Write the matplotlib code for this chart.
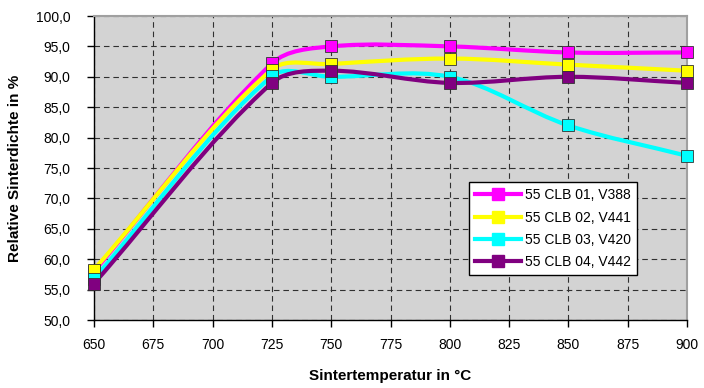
import matplotlib
matplotlib.use("Agg")
from matplotlib import pyplot as plt
from matplotlib.path import Path
from matplotlib.patches import PathPatch
from matplotlib.lines import Line2D
from matplotlib.ticker import FuncFormatter, MultipleLocator

plt.rcParams['font.family'] = ['Liberation Sans', 'DejaVu Sans']

# Sintertemperatur in °C
temps = [650, 725, 750, 800, 850, 900]

# relative Sinterdichte in %
clb01 = [58.0, 92.2, 95.0, 95.0, 94.0, 94.0]
clb02 = [58.3, 91.2, 92.1, 93.0, 92.0, 91.0]
clb03 = [56.8, 90.1, 90.0, 90.0, 82.0, 77.0]
clb04 = [56.0, 89.0, 91.0, 89.0, 90.0, 89.0]

labels = ["55 CLB 01, V388", "55 CLB 02, V441", "55 CLB 03, V420", "55 CLB 04, V442"]
colors = ["#ff00ff", "#ffff00", "#00ffff", "#800080"]


def smooth_path(xs, ys, sx, sy):
	# bezier "smoothed line": tangent from neighbours, scaled by chord length (screen space)
	pts = [(x * sx, y * sy) for x, y in zip(xs, ys)]
	n = len(pts)

	def dist(a, b):
		return ((a[0] - b[0]) ** 2 + (a[1] - b[1]) ** 2) ** 0.5

	verts = [pts[0]]
	codes = [Path.MOVETO]
	for i in range(n - 1):
		p0 = pts[i - 1] if i > 0 else pts[i]
		p1 = pts[i]
		p2 = pts[i + 1]
		p3 = pts[i + 2] if i + 2 < n else pts[i + 1]
		d12 = dist(p1, p2)
		k1 = d12 / (dist(p0, p1) + d12) / 1.5 if i > 0 else 1 / 3
		k2 = d12 / (dist(p2, p3) + d12) / 1.5 if i + 2 < n else 1 / 3
		if i == 0:
			c1 = (p1[0] + (p2[0] - p1[0]) * k1, p1[1] + (p2[1] - p1[1]) * k1)
		else:
			c1 = (p1[0] + (p2[0] - p0[0]) * k1 / 2, p1[1] + (p2[1] - p0[1]) * k1 / 2)
		if i + 2 >= n:
			c2 = (p2[0] - (p2[0] - p1[0]) * k2, p2[1] - (p2[1] - p1[1]) * k2)
		else:
			c2 = (p2[0] - (p3[0] - p1[0]) * k2 / 2, p2[1] - (p3[1] - p1[1]) * k2 / 2)
		verts += [c1, c2, p2]
		codes += [Path.CURVE4] * 3
	verts = [(x / sx, y / sy) for x, y in verts]
	return Path(verts, codes)


fig = plt.figure(figsize=(7.04, 3.88), dpi=100)
ax = fig.add_axes([94/704, 68/388, 593/704, 304/388])
ax.set_facecolor('#d3d3d3')
ax.set_xlim(650, 900)
ax.set_ylim(50, 100)

# pixels per data unit, so smoothing happens as on screen
sx = 593 / 250
sy = 304 / 50

series = [clb01, clb02, clb03, clb04]
handles = []
for vals, col, lab in zip(series, colors, labels):
	ax.add_patch(PathPatch(smooth_path(temps, vals, sx, sy), fill=False, edgecolor=col, lw=3, zorder=3))
	ax.plot(temps, vals, linestyle='none', marker='s', ms=8.5, mfc=col, mec='#333333', mew=0.6,
		zorder=4, clip_on=False)
	handles.append(Line2D([], [], color=col, lw=3, marker='s', ms=8.5, mfc=col, mec=col))

ax.xaxis.set_major_locator(MultipleLocator(25))
ax.yaxis.set_major_locator(MultipleLocator(5))
ax.yaxis.set_major_formatter(FuncFormatter(lambda v, p: f"{v:.1f}".replace('.', ',')))

ax.set_axisbelow(True)
ax.grid(True, color='#303030', lw=0.8, linestyle=(0, (5, 3.5)))

for s in ['top', 'right']:
	ax.spines[s].set_color('#a0a0a0')
	ax.spines[s].set_linewidth(1.5)
for s in ['left', 'bottom']:
	ax.spines[s].set_color('black')
	ax.spines[s].set_linewidth(1.0)

ax.tick_params(direction='out', length=5, width=1, labelsize=10, colors='black')
ax.tick_params(axis='y', pad=12)
ax.tick_params(axis='x', pad=8)

ax.set_xlabel("Sintertemperatur in °C", fontsize=11, fontweight='bold', labelpad=12)
ax.set_ylabel("Relative Sinterdichte in %", fontsize=11, fontweight='bold', labelpad=10)

leg = ax.legend(handles, labels, loc='upper left', bbox_to_anchor=(0.632, 0.454),
	borderaxespad=0, fontsize=10, frameon=True, fancybox=False, framealpha=1,
	edgecolor='black', handlelength=3.3, handletextpad=0.3, labelspacing=0.6,
	borderpad=0.45)
leg.get_frame().set_linewidth(1.0)
leg.set_zorder(6)

fig.savefig('out.png', dpi=100)
